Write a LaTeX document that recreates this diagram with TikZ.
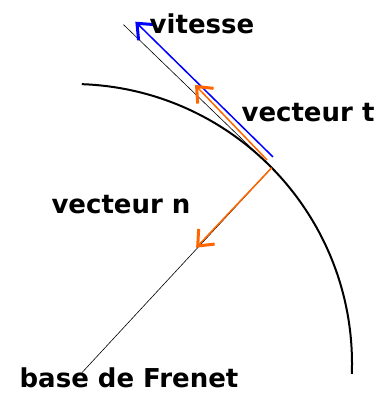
\documentclass[tikz,border=0pt]{standalone}
\usepackage{fontspec}
\setmainfont{DejaVu Sans}
\usetikzlibrary{arrows.meta, calc}
\definecolor{vitblue}{RGB}{0,0,255}
\definecolor{frenetorange}{RGB}{255,102,0}

\begin{document}
\begin{tikzpicture}[x=1pt, y=1pt,
    lbl/.style={font=\fontsize{26}{30}\selectfont\bfseries, inner sep=0pt},
    barb/.style={-{Straight Barb[length=13pt, width=22pt, line width=3pt]}}]
    \useasboundingbox (0,0) rectangle (380,396);

    % centre of curvature and point on the path
    \coordinate (C) at (72,32);
    \coordinate (M) at ($(C)+(44.5:280)$);

    % trajectory
    \draw[line width=2pt] ($(C)+(88:280)$) arc[start angle=88, end angle=-2, radius=280];

    % tangent and normal lines
    \coordinate (Tend) at ($(M)+(136:206)$);
    \coordinate (Nend) at ($(M)+(227.2:279)$);
    \draw[line width=0.6pt] (M) -- (Tend);
    \draw[line width=0.6pt] (M) -- (Nend);

    % speed vector
    \coordinate (Vstart) at ($(M)+(1.3,10.8)$);
    \coordinate (Vtip) at ($(Vstart)+(135.5:193)$);
    \draw[vitblue, line width=1.5pt, barb] (Vstart) -- (Vtip);

    % unit vectors t and n
    \coordinate (Tstart) at ($(M)+(-4.7,7.8)$);
    \coordinate (Ttip) at ($(Tstart)+(133.8:104)$);
    \coordinate (Ntip) at ($(M)+(226.6:110)$);
    \draw[frenetorange, line width=1.5pt, barb] (Tstart) -- (Ttip);
    \draw[frenetorange, line width=1.5pt, barb] (M) -- (Ntip);

    % labels
    \node[lbl] (vit) at (202,372) {vitesse};
    \node[lbl] (vt) at (308,283) {vecteur t};
    \node[lbl] (vn) at (121,191) {vecteur n};
    \node[lbl] (base) at (129,18) {base de Frenet};
\end{tikzpicture}
\end{document}
